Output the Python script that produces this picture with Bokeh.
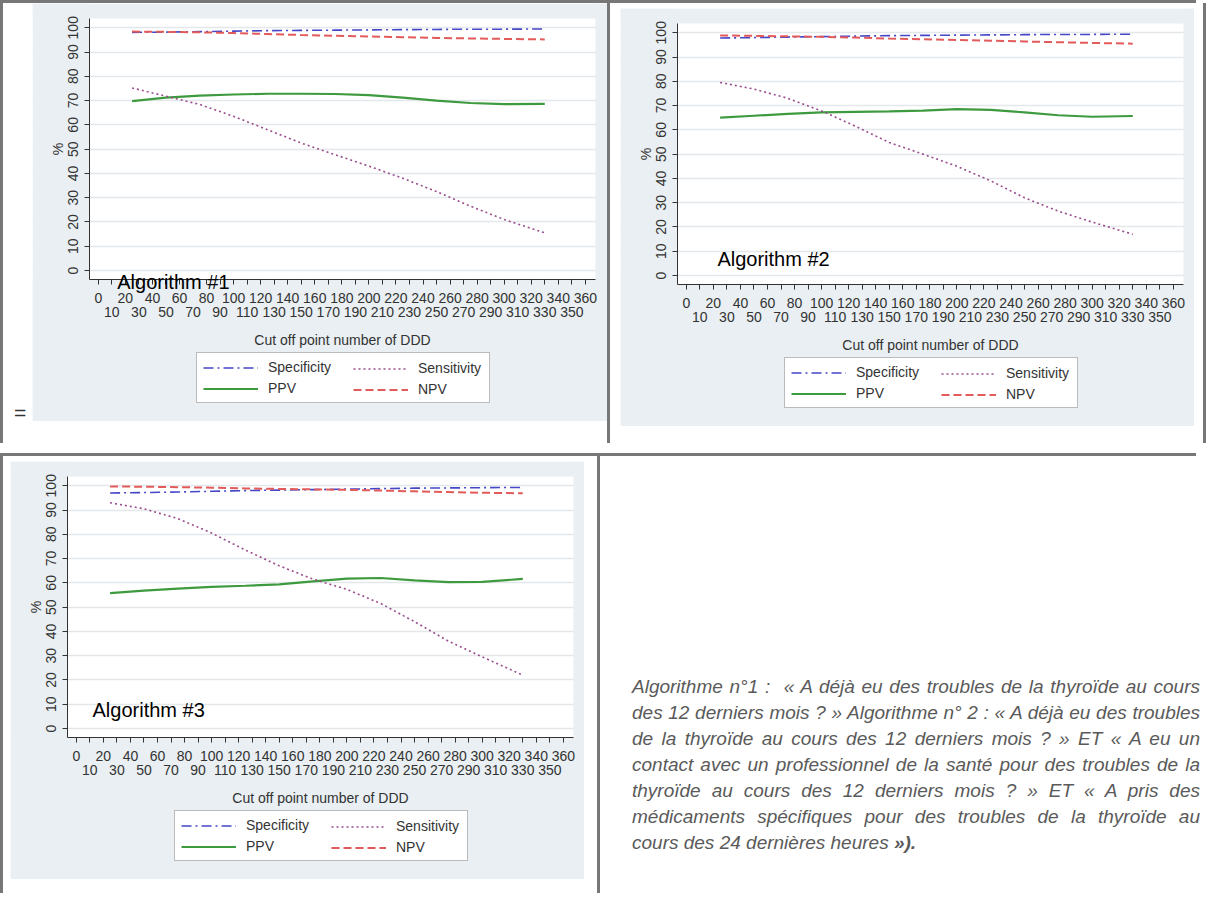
import math
from bokeh.plotting import figure
from bokeh.models import (Range1d, LinearAxis, FixedTicker, Legend, LegendItem, Label,
                          Div, Spacer, Grid, BoxAnnotation)
from bokeh.layouts import row, column
from bokeh.embed import file_html
from bokeh.resources import INLINE

# ---------------- data ----------------
cutoffs = [25, 50, 75, 100, 125, 150, 175, 200, 225, 250, 275, 300, 330]

spec1 = [98.1, 98.2, 98.4, 98.6, 98.8, 98.9, 99.0, 99.1, 99.2, 99.3, 99.4, 99.4, 99.5]
sens1 = [75.2, 71.8, 68.4, 63.5, 58.0, 52.5, 47.7, 43.0, 38.0, 32.5, 26.5, 21.0, 15.5]
ppv1 = [69.8, 71.2, 72.0, 72.5, 72.8, 72.8, 72.7, 72.2, 71.2, 70.0, 69.0, 68.5, 68.6]
npv1 = [98.4, 98.3, 98.1, 97.8, 97.4, 97.0, 96.7, 96.4, 96.1, 95.8, 95.6, 95.4, 95.2]

spec2 = [97.8, 98.0, 98.2, 98.4, 98.6, 98.8, 98.9, 99.0, 99.1, 99.2, 99.3, 99.3, 99.4]
sens2 = [79.5, 76.8, 73.0, 67.8, 61.5, 54.8, 50.0, 45.0, 39.0, 32.0, 26.5, 22.0, 17.0]
ppv2 = [65.0, 65.8, 66.6, 67.2, 67.4, 67.6, 67.9, 68.5, 68.2, 67.2, 66.0, 65.4, 65.7]
npv2 = [98.9, 98.7, 98.5, 98.3, 98.0, 97.6, 97.3, 97.0, 96.7, 96.4, 96.1, 95.8, 95.5]

spec3 = [97.0, 97.2, 97.4, 97.7, 98.0, 98.2, 98.4, 98.6, 98.8, 99.0, 99.1, 99.2, 99.3]
sens3 = [93.0, 90.5, 86.5, 80.5, 73.5, 67.0, 61.5, 57.3, 51.5, 44.0, 36.0, 29.5, 22.0]
ppv3 = [55.8, 56.8, 57.6, 58.3, 58.8, 59.4, 60.6, 61.7, 62.0, 61.0, 60.3, 60.4, 61.6]
npv3 = [99.7, 99.6, 99.4, 99.2, 98.9, 98.7, 98.5, 98.3, 98.0, 97.7, 97.4, 97.1, 96.9]

x_major = list(range(0, 361, 20))
x_minor = list(range(10, 351, 20))
y_ticks = list(range(0, 101, 10))
series_names = ["Specificity", "Sensitivity", "PPV", "NPV"]
panel_titles = ["Algorithm #1", "Algorithm #2", "Algorithm #3"]
title_pos = [(14, -4.8), (23, 6.6), (12, 7.5)]
x_title = "Cut off point number of DDD"
y_title = "%"

text_lines = [
    "Algorithme n°1 :&nbsp; « A déjà eu des troubles de la thyroïde au cours",
    "des 12 derniers mois ? » Algorithme n° 2 : « A déjà eu des troubles",
    "de la thyroïde au cours des 12 derniers mois ? » ET « A eu un",
    "contact avec un professionnel de la santé pour des troubles de la",
    "thyroïde au cours des 12 derniers mois ? » ET « A pris des",
    "médicaments spécifiques pour des troubles de la thyroïde au",
    "cours des 24 dernières heures <b>»).</b>",
]

# ---------------- style / geometry ----------------
BG = "#E9EFF2"
GRID = "#E4E8EA"
AX = "#333333"
FONT = "Liberation Sans"
BORDER = "#777777"
TICK_FS = "14px"

X_LO, X_HI = -6.5, 367.5        # plot-region extent (data)
Y_LO, Y_HI = -3.7, 103.8
FRAME_L, FRAME_T = 57, 15       # plot-region offset inside panel (px)
PLOT_W, PLOT_H = 506, 261       # plot-region size (px)
PANEL_H = 418


def make_panel(spec, sens, ppv, npv, title, tpos, width):
    kx = PLOT_W / (X_HI - X_LO)
    ky = PLOT_H / (Y_HI - Y_LO)
    x0 = X_LO - FRAME_L / kx
    x1 = x0 + width / kx
    y1 = Y_HI + FRAME_T / ky
    y0 = y1 - PANEL_H / ky
    p = figure(width=width, height=PANEL_H, x_range=Range1d(x0, x1),
               y_range=Range1d(y0, y1), output_backend="svg",
               toolbar_location=None, x_axis_type=None, y_axis_type=None,
               min_border=0)
    p.background_fill_color = "white"
    p.border_fill_color = BG
    p.outline_line_color = None

    p.add_layout(Grid(dimension=1, ticker=FixedTicker(ticks=y_ticks),
                      grid_line_color=GRID, grid_line_width=1.5))
    for kw in (dict(right=X_LO), dict(left=X_HI), dict(top=Y_LO), dict(bottom=Y_HI)):
        p.add_layout(BoxAnnotation(fill_color=BG, fill_alpha=1, line_color=None,
                                   level="underlay", **kw))

    yax = LinearAxis(ticker=FixedTicker(ticks=y_ticks), fixed_location=X_LO,
                     bounds=(Y_LO, Y_HI))
    yax.major_label_orientation = "vertical"
    yax.major_tick_out = 5
    yax.major_tick_in = 0
    yax.minor_tick_out = 0
    yax.minor_tick_in = 0
    yax.major_label_standoff = 6
    yax.major_label_text_font = FONT
    yax.major_label_text_font_size = TICK_FS
    yax.major_label_text_color = AX
    yax.axis_line_color = AX
    yax.major_tick_line_color = AX
    p.add_layout(yax, "left")

    xax1 = LinearAxis(ticker=FixedTicker(ticks=x_major, minor_ticks=x_minor),
                      fixed_location=Y_LO, bounds=(X_LO, X_HI))
    xax1.major_tick_out = 5
    xax1.major_tick_in = 0
    xax1.minor_tick_out = 5
    xax1.minor_tick_in = 0
    xax1.major_label_standoff = 8
    xax1.major_label_text_font = FONT
    xax1.major_label_text_font_size = TICK_FS
    xax1.major_label_text_color = AX
    xax1.axis_line_color = AX
    xax1.major_tick_line_color = AX
    xax1.minor_tick_line_color = AX
    p.add_layout(xax1, "below")

    xax2 = LinearAxis(ticker=FixedTicker(ticks=x_minor), fixed_location=Y_LO,
                      bounds=(X_LO, X_HI), axis_label=x_title)
    xax2.axis_line_color = None
    xax2.major_tick_line_color = None
    xax2.minor_tick_line_color = None
    xax2.major_tick_out = 0
    xax2.major_tick_in = 0
    xax2.minor_tick_out = 0
    xax2.minor_tick_in = 0
    xax2.major_label_standoff = 27
    xax2.major_label_text_font = FONT
    xax2.major_label_text_font_size = TICK_FS
    xax2.major_label_text_color = AX
    xax2.axis_label_standoff = 12
    xax2.axis_label_text_font = FONT
    xax2.axis_label_text_font_size = "14px"
    xax2.axis_label_text_font_style = "normal"
    xax2.axis_label_text_color = AX
    p.add_layout(xax2, "below")

    p.add_layout(Label(x=FRAME_L - 32, y=(Y_LO + Y_HI) / 2, x_units="screen",
                       text=y_title, angle=math.pi / 2, text_align="center",
                       text_baseline="middle", text_font=FONT,
                       text_font_size="14px", text_color=AX))

    r_spec = p.line(cutoffs, spec, line_color="#4646C8", line_dash="10 4 2 4", line_width=1.6)
    r_npv = p.line(cutoffs, npv, line_color="#E25A5A", line_dash="8 4", line_width=2)
    r_ppv = p.line(cutoffs, ppv, line_color="#3E9A3E", line_width=2.2)
    r_sens = p.line(cutoffs, sens, line_color="#9A4C8E", line_dash="2 3", line_width=1.6)

    common = dict(padding=6, glyph_width=55, glyph_height=15, label_height=15,
                  label_standoff=10, spacing=5, label_text_font=FONT,
                  label_text_font_size="14px", label_text_color=AX, margin=0)
    # left legend column carries the frame of the whole legend box
    legA = Legend(items=[LegendItem(label=series_names[0], renderers=[r_spec]),
                         LegendItem(label=series_names[2], renderers=[r_ppv])],
                  location=(164, 18), label_width=215,
                  border_line_color="#777777", border_line_width=1,
                  background_fill_color="white", background_fill_alpha=1, **common)
    # right legend column (borderless: padding collapses to 0)
    legB = Legend(items=[LegendItem(label=series_names[1], renderers=[r_sens]),
                         LegendItem(label=series_names[3], renderers=[r_npv])],
                  location=(321, 24), label_width=60,
                  border_line_color=None, background_fill_alpha=0, **common)
    p.add_layout(legA, "center")
    p.add_layout(legB, "center")

    p.add_layout(Label(x=tpos[0], y=tpos[1], text=title, text_font=FONT,
                       text_font_size="20px", text_color="black",
                       text_baseline="alphabetic"))
    return p


def hbar(w):
    return Spacer(width=w, height=3, styles={"background-color": BORDER})


def vbar(h):
    return Spacer(width=3, height=h, styles={"background-color": BORDER})


p1 = make_panel(spec1, sens1, ppv1, npv1, panel_titles[0], title_pos[0], 575)
p2 = make_panel(spec2, sens2, ppv2, npv2, panel_titles[1], title_pos[1], 574)
p3 = make_panel(spec3, sens3, ppv3, npv3, panel_titles[2], title_pos[2], 574)

eq = Div(text='<div style="width:19px;height:440px;overflow:hidden;">'
              '<div style="padding-top:394px;padding-left:6px;font-family:\'Liberation Sans\';'
              'font-size:21px;color:#333;line-height:21px">=</div></div>',
         width=19, height=440, styles={"overflow": "hidden"})

cell1 = row(eq, column(p1, Spacer(width=575, height=22)))
cell2 = row(Spacer(width=10, height=440),
            column(Spacer(width=574, height=5), p2, Spacer(width=574, height=17)),
            Spacer(width=9, height=440))
cell3 = row(Spacer(width=7, height=437),
            column(Spacer(width=574, height=5), p3, Spacer(width=574, height=14)),
            Spacer(width=13, height=437))

inner = "".join(
    '<div style="text-align:justify;text-align-last:%s;white-space:nowrap;">%s</div>'
    % ("justify" if i < len(text_lines) - 1 else "left", t)
    for i, t in enumerate(text_lines))
text_html = ('<div style="width:597px;height:437px;overflow:hidden;">'
             '<div style="margin-left:27px;padding-top:213px;width:568px;'
             'font-family:\'Liberation Sans\';font-style:italic;font-size:19px;'
             'color:#5a5a5a;line-height:26px;">' + inner + '</div></div>')
textcell = Div(text=text_html, width=597, height=437, styles={"overflow": "hidden"})

layout = column(
    hbar(1196),
    row(vbar(440), cell1, vbar(440), cell2, vbar(440)),
    hbar(1196),
    row(vbar(437), cell3, vbar(437), textcell),
    hbar(600),
)

with open("out.html", "w") as f:
    f.write(file_html(layout, INLINE))
